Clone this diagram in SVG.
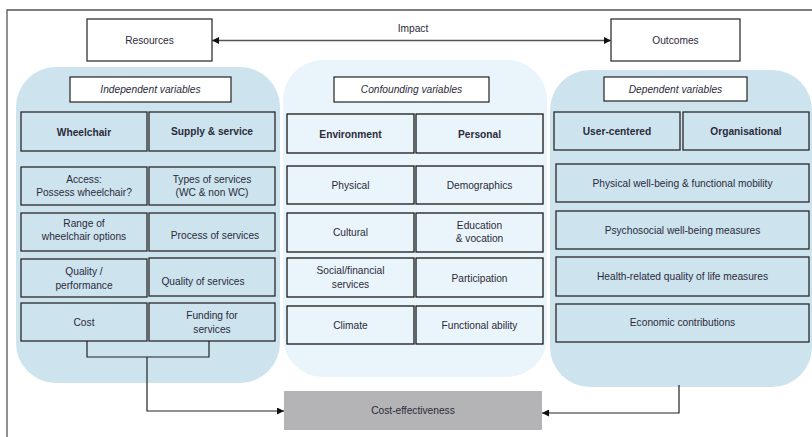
<svg xmlns="http://www.w3.org/2000/svg" width="812" height="437" viewBox="0 0 812 437">
<defs>
<marker id="ah" viewBox="0 0 10 10" refX="10" refY="5" markerWidth="7" markerHeight="7" orient="auto-start-reverse" markerUnits="userSpaceOnUse">
<path d="M0,0 L10,5 L0,10 z" fill="#111"/>
</marker>
<style>
text{font-family:"Liberation Sans",Arial,sans-serif;font-size:10.2px;fill:#2b2b3a;text-anchor:middle;dominant-baseline:central}
.b{font-weight:bold}
.i{font-style:italic}
.box{fill:#fff;stroke:#222;stroke-width:1.2}
.cl{fill:#cde3ee;stroke:#2a2a2a;stroke-width:1.3}
.cm{fill:#eaf4fb;stroke:#1a1a1a;stroke-width:1.3}
.pl{fill:#cde3ee}
.pm{fill:#eaf4fb}
.con{fill:none;stroke:#222;stroke-width:1.2}
</style>
</defs>
<rect width="812" height="437" fill="#fff"/>
<g id="frame"><path d="M7,437 V10 H812" fill="none" stroke="#555" stroke-width="1.3"/></g>

<g id="panel-independent"><rect class="pl" x="16" y="67" width="264" height="316" rx="40"/></g>
<g id="panel-confounding"><rect class="pm" x="283" y="60" width="264" height="317" rx="40"/></g>
<g id="panel-dependent"><rect class="pl" x="550" y="70" width="262" height="317" rx="40"/></g>

<g id="resources"><rect class="box" x="87" y="19" width="125" height="42"/><text x="149.5" y="40">Resources</text></g>
<g id="outcomes"><rect class="box" x="611" y="19" width="129" height="42"/><text x="675.5" y="40">Outcomes</text></g>

<g id="independent-label"><rect class="box" x="70" y="77" width="161" height="25"/><text class="i" x="150.5" y="89.5">Independent variables</text></g>
<g id="confounding-label"><rect class="box" x="334" y="77" width="155" height="25"/><text class="i" x="411.5" y="89.5">Confounding variables</text></g>
<g id="dependent-label"><rect class="box" x="604" y="77" width="143" height="24"/><text class="i" x="675.5" y="89">Dependent variables</text></g>

<g id="wheelchair"><rect class="cl" x="21" y="112" width="126" height="39"/><text class="b" x="84" y="132">Wheelchair</text></g>
<g id="supply"><rect class="cl" x="149" y="112" width="126" height="39"/><text class="b" x="212" y="131.5">Supply &amp; service</text></g>
<g id="access"><rect class="cl" x="21" y="167" width="126" height="38"/><text x="84" y="179.5">Access:</text><text x="84" y="192.5">Possess wheelchair?</text></g>
<g id="types"><rect class="cl" x="149" y="167" width="126" height="38"/><text x="212" y="179.5">Types of services</text><text x="212" y="192.5">(WC &amp; non WC)</text></g>
<g id="range"><rect class="cl" x="21" y="213" width="126" height="38"/><text x="84" y="223.5">Range of</text><text x="84" y="236.5">wheelchair options</text></g>
<g id="process"><rect class="cl" x="149" y="213" width="126" height="38"/><text x="215" y="235">Process of services</text></g>
<g id="quality"><rect class="cl" x="21" y="259" width="126" height="38"/><text x="84" y="271">Quality /</text><text x="84" y="285">performance</text></g>
<g id="quality-services"><rect class="cl" x="149" y="258" width="126" height="38"/><text x="203" y="281.5">Quality of services</text></g>
<g id="cost"><rect class="cl" x="21" y="303" width="126" height="38"/><text x="84" y="322">Cost</text></g>
<g id="funding"><rect class="cl" x="149" y="303" width="126" height="38"/><text x="212" y="315">Funding for</text><text x="212" y="329">services</text></g>

<g id="environment"><rect class="cm" x="287" y="114" width="127" height="39"/><text class="b" x="350.5" y="134">Environment</text></g>
<g id="personal"><rect class="cm" x="416" y="114" width="127" height="39"/><text class="b" x="479.5" y="134">Personal</text></g>
<g id="physical"><rect class="cm" x="287" y="166" width="127" height="38"/><text x="350.5" y="185">Physical</text></g>
<g id="demographics"><rect class="cm" x="416" y="166" width="127" height="38"/><text x="479.5" y="185">Demographics</text></g>
<g id="cultural"><rect class="cm" x="287" y="213" width="127" height="39"/><text x="350.5" y="232">Cultural</text></g>
<g id="education"><rect class="cm" x="416" y="213" width="127" height="39"/><text x="479.5" y="225.5">Education</text><text x="479.5" y="238.5">&amp; vocation</text></g>
<g id="social"><rect class="cm" x="287" y="258" width="127" height="39"/><text x="350.5" y="270.5">Social/financial</text><text x="350.5" y="284.5">services</text></g>
<g id="participation"><rect class="cm" x="416" y="258" width="127" height="39"/><text x="479.5" y="278">Participation</text></g>
<g id="climate"><rect class="cm" x="287" y="306" width="127" height="38"/><text x="350.5" y="325">Climate</text></g>
<g id="functional"><rect class="cm" x="416" y="306" width="127" height="38"/><text x="479.5" y="325">Functional ability</text></g>

<g id="user-centered"><rect class="cl" x="554" y="112" width="126" height="38"/><text class="b" x="617" y="131">User-centered</text></g>
<g id="organisational"><rect class="cl" x="683" y="112" width="126" height="38"/><text class="b" x="746" y="131">Organisational</text></g>
<g id="physical-wellbeing"><rect class="cl" x="556" y="164" width="253" height="38"/><text x="682.5" y="183">Physical well-being &amp; functional mobility</text></g>
<g id="psychosocial"><rect class="cl" x="556" y="211" width="253" height="38"/><text x="682.5" y="230">Psychosocial well-being measures</text></g>
<g id="health"><rect class="cl" x="556" y="257" width="253" height="39"/><text x="682.5" y="276">Health-related quality of life measures</text></g>
<g id="economic"><rect class="cl" x="556" y="304" width="253" height="38"/><text x="682.5" y="322.5">Economic contributions</text></g>

<g id="cost-effectiveness"><rect x="284" y="391" width="258" height="39" fill="#b4b4b6"/><text x="413" y="410.5">Cost-effectiveness</text></g>

<g id="connectors">
<line x1="212" y1="40.5" x2="611" y2="40.5" stroke="#555" stroke-width="1.3" marker-start="url(#ah)" marker-end="url(#ah)"/>
<text x="413" y="28">Impact</text>
<path class="con" d="M87,341 V357 H209 V341"/>
<path class="con" d="M147,357 V411 H284" marker-end="url(#ah)"/>
<path class="con" d="M679,385 V413 H542" marker-end="url(#ah)"/>
</g>
</svg>
